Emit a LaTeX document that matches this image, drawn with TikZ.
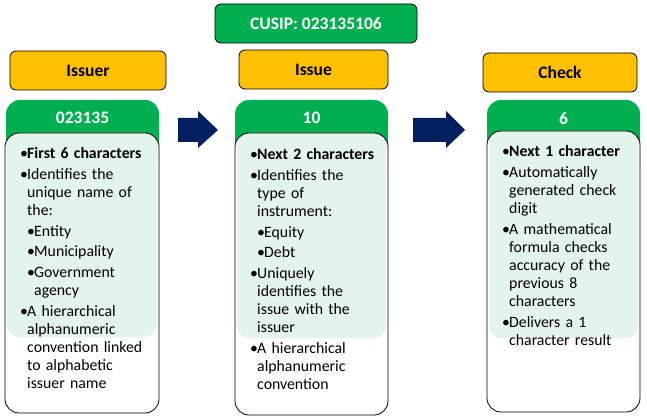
\documentclass[tikz,border=0pt]{standalone}
\usepackage{fontspec}
\setmainfont{Carlito}
\usetikzlibrary{positioning}
\definecolor{cgreen}{HTML}{00B050}
\definecolor{cyellow}{HTML}{FFC000}
\definecolor{clight}{HTML}{E3F4EA}
\definecolor{cnavy}{HTML}{002060}
% bullet items with hanging indent, lines broken by hand
\newcommand{\bpt}[1]{\hangindent=7pt\hangafter=1\noindent\makebox[7pt][l]{\textbullet}#1\par}
\newcommand{\bsub}[1]{\hangindent=14pt\hangafter=1\noindent\hspace*{7pt}\makebox[7pt][l]{\textbullet}#1\par}
\tikzset{%
  tagbox/.style={draw=black, line width=0.8pt, rounded corners=6pt, fill=cyellow,
    minimum height=39pt, inner sep=0pt, font=\fontsize{17.5}{20}\selectfont\bfseries},
  codebox/.style={tagbox, fill=cgreen, text=white},
  numtext/.style={text=white, inner sep=0pt, font=\fontsize{17.5}{20}\selectfont\bfseries},
  bodytext/.style={anchor=base west, inner sep=0pt, text width=145pt,
    font=\fontsize{15.8}{18.1}\selectfont,
    execute at begin node={\setlength{\parskip}{2.5pt}\hyphenpenalty=10000}},
  blockarrow/.style={fill=cnavy}
}
\begin{document}
\begin{tikzpicture}[x=1pt, y=-1pt]
\useasboundingbox (0,0) rectangle (647,419);

% top code and the three parts
\node[codebox, minimum width=202pt] (cusip) at (316,23.5) {CUSIP: 023135106};
\node[tagbox, minimum width=156pt] (issuer) at (88,70.5) {Issuer};
\node[tagbox, minimum width=149pt] (issue) at (313.5,69.5) {Issue};
\node[tagbox, minimum width=154pt] (check) at (560,72.5) {Check};

% left column
\fill[cgreen, rounded corners=14pt] (6,100) rectangle (159,180);
\fill[white, rounded corners=14pt] (5,133) rectangle (159,413);
\begin{scope}
  \clip[rounded corners=14pt] (5,133) rectangle (159,413);
  \fill[clight, rounded corners=12pt] (7,115) rectangle (157,337);
\end{scope}
\draw[line width=0.8pt, rounded corners=14pt] (5,133) rectangle (159,413);
\node[numtext] (num1) at (82.5,118) {023135};
\node[bodytext] (body1) at (20,159) {%
  \bpt{\textbf{First 6 characters}}
  \bpt{Identifies the\newline unique name of\newline the:}
  \bsub{Entity}
  \bsub{Municipality}
  \bsub{Government\newline agency}
  \bpt{A hierarchical\newline alphanumeric\newline convention linked\newline to alphabetic\newline issuer name}};

% middle column
\fill[cgreen, rounded corners=14pt] (235,100) rectangle (388,180);
\fill[white, rounded corners=14pt] (235,133) rectangle (388,415);
\begin{scope}
  \clip[rounded corners=14pt] (235,133) rectangle (388,415);
  \fill[clight, rounded corners=12pt] (237,115) rectangle (386,338);
\end{scope}
\draw[line width=0.8pt, rounded corners=14pt] (235,133) rectangle (388,415);
\node[numtext] (num2) at (311.5,118) {10};
\node[bodytext] (body2) at (250,160) {%
  \bpt{\textbf{Next 2 characters}}
  \bpt{Identifies the\newline type of\newline instrument:}
  \bsub{Equity}
  \bsub{Debt}
  \bpt{Uniquely\newline identifies the\newline issue with the\newline issuer}
  \bpt{A hierarchical\newline alphanumeric\newline convention}};

% right column
\fill[cgreen, rounded corners=14pt] (487,100) rectangle (640,180);
\fill[white, rounded corners=14pt] (487,131) rectangle (640,412);
\begin{scope}
  \clip[rounded corners=14pt] (487,131) rectangle (640,412);
  \fill[clight, rounded corners=12pt] (489,115) rectangle (638,338);
\end{scope}
\draw[line width=0.8pt, rounded corners=14pt] (487,131) rectangle (640,412);
\node[numtext] (num3) at (563.5,119) {6};
\node[bodytext] (body3) at (502,157) {%
  \bpt{\textbf{Next 1 character}}
  \bpt{Automatically\newline generated check\newline digit}
  \bpt{A mathematical\newline formula checks\newline accuracy of the\newline previous 8\newline characters}
  \bpt{Delivers a 1\newline character result}};

% block arrows
\fill[blockarrow] (178,118) -- (198,118) -- (198,111) -- (218,130) -- (198,148) -- (198,142) -- (178,142) -- cycle;
\fill[blockarrow] (413,118) -- (446,118) -- (446,111) -- (465,130) -- (446,148) -- (446,142) -- (413,142) -- cycle;
\end{tikzpicture}
\end{document}
